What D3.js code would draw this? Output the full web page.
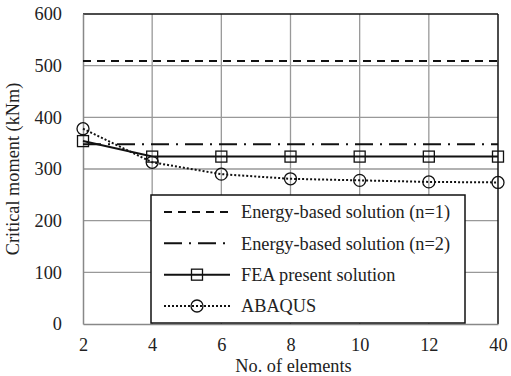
<!DOCTYPE html>
<html>
<head>
<meta charset="utf-8">
<script src="https://cdn.jsdelivr.net/npm/d3@7"></script>
</head>
<body style="margin:0">
<script>
// categories and series values
const elements = ['2', '4', '6', '8', '10', '12', '40'];
const energyN1 = [509, 509, 509, 509, 509, 509, 509];
const energyN2 = [348, 348, 348, 348, 348, 348, 348];
const feaPresent = [354, 324, 324, 324, 324, 324, 324];
const abaqus = [378, 313, 290, 281, 278, 275, 274];
const yTicks = [0, 100, 200, 300, 400, 500, 600];

const width = 511;
const height = 376;
const margin = {top: 14, right: 13, bottom: 52, left: 83};
const innerW = width - margin.left - margin.right;
const innerH = height - margin.top - margin.bottom;

const svg = d3.select('body')
  .append('svg')
    .attr('width', width)
    .attr('height', height);

const g = svg.append('g')
  .attr('transform', `translate(${margin.left},${margin.top})`);

const x = d3.scalePoint().domain(elements).range([0, innerW]).padding(0);
const y = d3.scaleLinear().domain([0, 600]).range([innerH, 0]);

// grid
g.selectAll('.hgrid')
  .data(yTicks.slice(1, -1))
  .join('line')
    .attr('class', 'hgrid')
    .attr('x1', 0).attr('x2', innerW)
    .attr('y1', d => y(d)).attr('y2', d => y(d))
    .attr('stroke', '#999').attr('stroke-width', 1.3);

g.selectAll('.vgrid')
  .data(elements.slice(1, -1))
  .join('line')
    .attr('class', 'vgrid')
    .attr('x1', d => x(d)).attr('x2', d => x(d))
    .attr('y1', 0).attr('y2', innerH)
    .attr('stroke', '#999').attr('stroke-width', 1.3);

// frame: top / right black, left / bottom grey
g.append('line').attr('x1', 0).attr('x2', innerW).attr('y1', 0).attr('y2', 0)
  .attr('stroke', '#111').attr('stroke-width', 1.5);
g.append('line').attr('x1', innerW).attr('x2', innerW).attr('y1', 0).attr('y2', innerH)
  .attr('stroke', '#111').attr('stroke-width', 1.5);

// axes
const yAxis = g.append('g')
  .call(d3.axisLeft(y).tickValues(yTicks).tickSize(0).tickPadding(21));
const xAxis = g.append('g')
  .attr('transform', `translate(0,${innerH})`)
  .call(d3.axisBottom(x).tickSize(0).tickPadding(14));

[yAxis, xAxis].forEach(a => {
  a.select('.domain').attr('stroke', '#888').attr('stroke-width', 1.5);
});

// axis titles
svg.append('text')
  .attr('transform', `translate(19,${margin.top + innerH / 2}) rotate(-90)`)
  .attr('text-anchor', 'middle')
  .text('Critical moment (kNm)');

svg.append('text')
  .attr('x', margin.left + innerW / 2 + 3)
  .attr('y', 372)
  .attr('text-anchor', 'middle')
  .text('No. of elements');

// series
const series = [
  {name: 'Energy-based solution (n=1)', values: energyN1, dash: '8,6', marker: null},
  {name: 'Energy-based solution (n=2)', values: energyN2, dash: '18,7,2,7', marker: null},
  {name: 'FEA present solution', values: feaPresent, dash: null, marker: 'square'},
  {name: 'ABAQUS', values: abaqus, dash: '2,2', marker: 'circle'}
];

const line = d3.line()
  .x((d, i) => x(elements[i]))
  .y(d => y(d));

series.forEach(s => {
  g.append('path')
    .datum(s.values)
    .attr('d', line)
    .attr('fill', 'none')
    .attr('stroke', '#111')
    .attr('stroke-width', 2)
    .attr('stroke-dasharray', s.dash);
});

const drawMarker = (sel, type) => {
  if (type === 'square') {
    sel.append('rect')
      .attr('x', -5.5).attr('y', -5.5).attr('width', 11).attr('height', 11)
      .attr('fill', 'none').attr('stroke', '#111').attr('stroke-width', 1.3);
  } else if (type === 'circle') {
    sel.append('circle')
      .attr('r', 6)
      .attr('fill', 'none').attr('stroke', '#111').attr('stroke-width', 1.3);
  }
};

series.filter(s => s.marker).forEach(s => {
  g.selectAll(null)
    .data(s.values)
    .join('g')
      .attr('transform', (d, i) => `translate(${x(elements[i])},${y(d)})`)
      .each(function() { drawMarker(d3.select(this), s.marker); });
});

// legend
const lx = 151, ly = 195, lw = 314, lh = 128;
const legend = svg.append('g');
legend.append('rect')
  .attr('x', lx).attr('y', ly).attr('width', lw).attr('height', lh)
  .attr('fill', '#fff').attr('stroke', '#111').attr('stroke-width', 1.5);

const rowY = d3.scalePoint().domain(series.map(s => s.name)).range([ly + 17, ly + 111]);

series.forEach(s => {
  const yy = rowY(s.name);
  legend.append('line')
    .attr('x1', 164).attr('x2', 230).attr('y1', yy).attr('y2', yy)
    .attr('stroke', '#111').attr('stroke-width', 2)
    .attr('stroke-dasharray', s.dash);
  if (s.marker) {
    const m = legend.append('g').attr('transform', `translate(${197},${yy})`);
    drawMarker(m, s.marker);
  }
  legend.append('text')
    .attr('x', 241).attr('y', yy)
    .attr('dy', '0.35em')
    .text(s.name);
});

// serif font on every text
svg.selectAll('text')
  .attr('font-family', null)
  .style('font-family', '"Liberation Serif"')
  .style('font-size', '18.3px')
  .style('fill', '#222');
svg.selectAll('g').attr('font-family', null).attr('font-size', null);
</script>
</body>
</html>
